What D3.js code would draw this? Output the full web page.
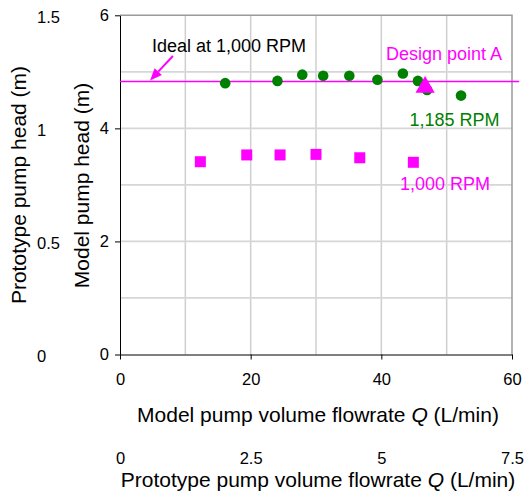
<!DOCTYPE html>
<html>
<head>
<meta charset="utf-8">
<script src="https://cdn.jsdelivr.net/npm/d3@7"></script>
<style>
  body { margin: 0; background: #fff; }
  svg { display: block; }
  text { font-family: "Liberation Sans", Arial, Helvetica, sans-serif; }
</style>
</head>
<body>
<svg id="chart" width="528" height="498"></svg>
<script>
// Measured model pump heads at two shaft speeds
const rpm1185Flow = [16.1, 24.1, 27.9, 31.1, 35.1, 39.4, 43.3, 45.6, 47.0, 52.2];
const rpm1185Head = [4.80, 4.84, 4.95, 4.93, 4.93, 4.86, 4.97, 4.84, 4.68, 4.58];
const rpm1000Flow = [12.3, 19.4, 24.5, 30.0, 36.7, 44.9];
const rpm1000Head = [3.41, 3.53, 3.53, 3.54, 3.48, 3.40];

// Design point A and the ideal (similarity-scaled) head at 1,000 RPM
const designFlow = [46.7];
const designHead = [4.73];
const idealHead = 4.83;
const idealFlowSpan = [0, 61.1];

// Axis ticks
const modelFlowTicks = [0, 20, 40, 60];
const protoFlowTicks = [0, 2.5, 5, 7.5];
const modelHeadTicks = [0, 2, 4, 6];
const protoHeadTicks = [0, 0.5, 1, 1.5];
const flowGrid = [10, 20, 30, 40, 50];
const headGrid = [1, 2, 3, 4, 5];

const GREEN = "#008000";
const MAGENTA = "#ff00ff";
const FONT = '"Liberation Sans", Arial, sans-serif';

const svg = d3.select("#chart");

const x = d3.scaleLinear().domain([0, 60]).range([120, 512]);
const y = d3.scaleLinear().domain([0, 6]).range([354.5, 15.3]);
const xProto = d3.scaleLinear().domain([0, 7.5]).range(x.range());
const yProto = d3.scaleLinear().domain([0, 1.5]).range(y.range());

const [x0, x1] = x.range();
const [y0, y1] = y.range();

// grid
const grid = svg.append("g");
grid.selectAll("line.v").data(flowGrid).join("line")
  .attr("x1", d => x(d)).attr("x2", d => x(d))
  .attr("y1", y0).attr("y2", y1)
  .attr("stroke", "#cfcfcf").attr("stroke-width", 1.5);
grid.selectAll("line.h").data(headGrid).join("line")
  .attr("x1", x0).attr("x2", x1)
  .attr("y1", d => y(d)).attr("y2", d => y(d))
  .attr("stroke", "#d6d6d6").attr("stroke-width", 1.8);

// top and right frame
svg.append("path")
  .attr("d", `M${x0},${y1}H${x1}V${y0}`)
  .attr("fill", "none").attr("stroke", "#9a9a9a").attr("stroke-width", 1.5);

// axes
const tickFont = "16.5px";
const plain = d3.format("");
const gx = svg.append("g").attr("transform", `translate(0,${y0})`)
  .call(d3.axisBottom(x).tickValues(modelFlowTicks).tickFormat(plain)
    .tickSize(5).tickPadding(14).tickSizeOuter(0));
const gy = svg.append("g").attr("transform", `translate(${x0},0)`)
  .call(d3.axisLeft(y).tickValues(modelHeadTicks).tickFormat(plain)
    .tickSize(5).tickPadding(6).tickSizeOuter(0));
[gx, gy].forEach(g => {
  g.selectAll("text").attr("font-size", tickFont).attr("fill", "#000").attr("font-family", FONT);
  g.selectAll("line, path").attr("stroke", "#000");
});

// prototype flow scale below the model axis
const gxp = svg.append("g").attr("transform", `translate(0,${464})`)
  .call(d3.axisBottom(xProto).tickValues(protoFlowTicks).tickSize(0).tickPadding(0)
    .tickFormat(plain));
gxp.select(".domain").remove();
gxp.selectAll("text").attr("dy", 0).attr("font-size", tickFont).attr("fill", "#000")
  .attr("font-family", FONT);

// prototype head scale at the far left
const gyp = svg.append("g").attr("transform", `translate(37,0)`)
  .call(d3.axisRight(yProto).tickValues(protoHeadTicks).tickSize(0).tickPadding(0)
    .tickFormat(plain));
gyp.select(".domain").remove();
gyp.selectAll("text").attr("dy", "0.45em").attr("font-size", tickFont).attr("fill", "#000")
  .attr("font-family", FONT);

// axis titles
const titleSize = "21px";
function flowTitle(prefix, yPos) {
  const t = svg.append("text").attr("x", 318).attr("y", yPos)
    .attr("text-anchor", "middle").attr("font-size", titleSize).attr("fill", "#000");
  t.append("tspan").text(prefix + " ");
  t.append("tspan").attr("font-style", "italic").text("Q");
  t.append("tspan").text(" (L/min)");
}
flowTitle("Model pump volume flowrate", 421.5);
flowTitle("Prototype pump volume flowrate", 487);

svg.append("text")
  .attr("transform", `translate(26,185) rotate(-90)`)
  .attr("text-anchor", "middle").attr("font-size", titleSize).attr("fill", "#000")
  .text("Prototype pump head (m)");
svg.append("text")
  .attr("transform", `translate(88.5,185.5) rotate(-90)`)
  .attr("text-anchor", "middle").attr("font-size", titleSize).attr("fill", "#000")
  .text("Model pump head (m)");

// ideal head line at 1,000 RPM
svg.append("line")
  .attr("x1", x(idealFlowSpan[0])).attr("x2", x(idealFlowSpan[1]))
  .attr("y1", y(idealHead)).attr("y2", y(idealHead))
  .attr("stroke", MAGENTA).attr("stroke-width", 1.6);

// 1,185 RPM series
svg.append("g").selectAll("circle")
  .data(d3.zip(rpm1185Flow, rpm1185Head)).join("circle")
  .attr("cx", d => x(d[0])).attr("cy", d => y(d[1]))
  .attr("r", 5.3).attr("fill", GREEN);

// 1,000 RPM series
const sq = 11;
svg.append("g").selectAll("rect")
  .data(d3.zip(rpm1000Flow, rpm1000Head)).join("rect")
  .attr("x", d => x(d[0]) - sq / 2).attr("y", d => y(d[1]) - sq / 2)
  .attr("width", sq).attr("height", sq).attr("fill", MAGENTA);

// design point A
svg.append("g").selectAll("path")
  .data(d3.zip(designFlow, designHead)).join("path")
  .attr("transform", d => `translate(${x(d[0])},${y(d[1])})`)
  .attr("d", d3.symbol(d3.symbolTriangle, 160))
  .attr("fill", MAGENTA);

// annotations
const annFont = "18px";
svg.append("text").attr("x", 152).attr("y", 51.5)
  .attr("font-size", annFont).attr("fill", "#000").text("Ideal at 1,000 RPM");
svg.append("text").attr("x", 386).attr("y", 59.5)
  .attr("font-size", annFont).attr("fill", MAGENTA).text("Design point A");
svg.append("text").attr("x", 409.5).attr("y", 126)
  .attr("font-size", annFont).attr("fill", GREEN).text("1,185 RPM");
svg.append("text").attr("x", 400).attr("y", 189.5)
  .attr("font-size", annFont).attr("fill", MAGENTA).text("1,000 RPM");

// arrow pointing at the ideal line
const tail = [x(8.1), y(5.28)];
const tip = [x(4.6), y(idealHead) - 1];
const ang = Math.atan2(tip[1] - tail[1], tip[0] - tail[0]);
const headLen = 12, headHalf = 5;
const base = [tip[0] - headLen * Math.cos(ang), tip[1] - headLen * Math.sin(ang)];
svg.append("line")
  .attr("x1", tail[0]).attr("y1", tail[1]).attr("x2", base[0]).attr("y2", base[1])
  .attr("stroke", MAGENTA).attr("stroke-width", 2);
svg.append("path")
  .attr("d", d3.line()([
    tip,
    [base[0] + headHalf * Math.sin(ang), base[1] - headHalf * Math.cos(ang)],
    [base[0] - headHalf * Math.sin(ang), base[1] + headHalf * Math.cos(ang)]
  ]) + "Z")
  .attr("fill", MAGENTA);
</script>
</body>
</html>
